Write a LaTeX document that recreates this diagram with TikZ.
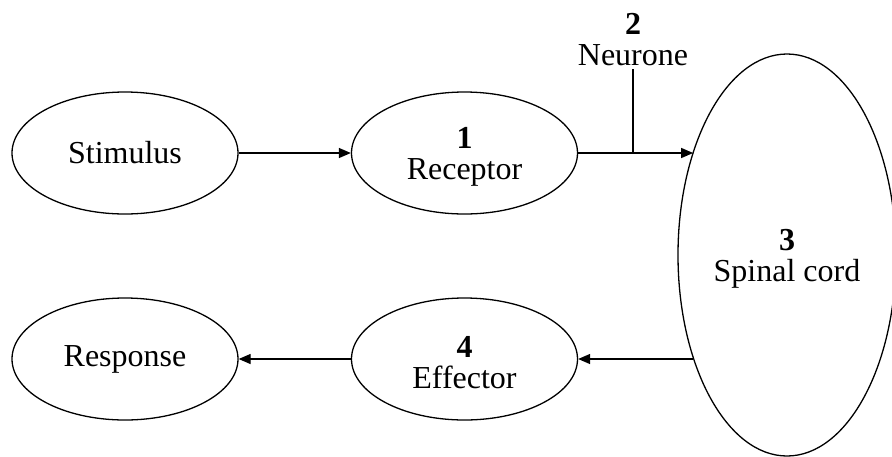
\documentclass[tikz,border=0pt]{standalone}
\usepackage{fontspec}
\setmainfont{Liberation Serif}
\usetikzlibrary{shapes.geometric,arrows.meta}
\newcommand\mytallstrut{\rule{0pt}{29pt}}
\begin{document}
\begin{tikzpicture}[x=1pt,y=-1pt]
\tikzset{
  oval/.style={draw, ellipse, line width=1.3pt, minimum width=226pt, minimum height=122pt,
    inner sep=0pt, align=center, font=\fontsize{32}{31}\selectfont},
  conn/.style={line width=1.3pt, -{Triangle[length=12pt,width=10pt]}},
  lbl/.style={align=center, inner sep=3pt, font=\fontsize{32}{31}\selectfont}
}
\useasboundingbox (0,0) rectangle (892,456);
\node[oval] (stim) at (125,153) {Stimulus};
\node[oval] (rec) at (464.5,153) {\mytallstrut\textbf{1}\\Receptor};
\node[oval, minimum width=218pt, minimum height=402pt] (sc) at (787,255) {\mytallstrut\textbf{3}\\Spinal cord};
\node[oval] (resp) at (125,359) {Response};
\node[oval] (eff) at (464.5,359) {\mytallstrut\textbf{4}\\Effector};
\node[lbl] (neu) at (633,40) {\textbf{2}\\Neurone};
\coordinate (j) at (neu.south |- rec.east);
\draw[conn] (stim) -- (rec);
\draw[conn] (rec.east) -- (rec.east -| sc.132.6);
\draw[line width=1.3pt] (neu.south) -- (j);
\draw[conn] (eff.east -| sc.228) -- (eff.east);
\draw[conn] (eff) -- (resp);
\end{tikzpicture}
\end{document}
